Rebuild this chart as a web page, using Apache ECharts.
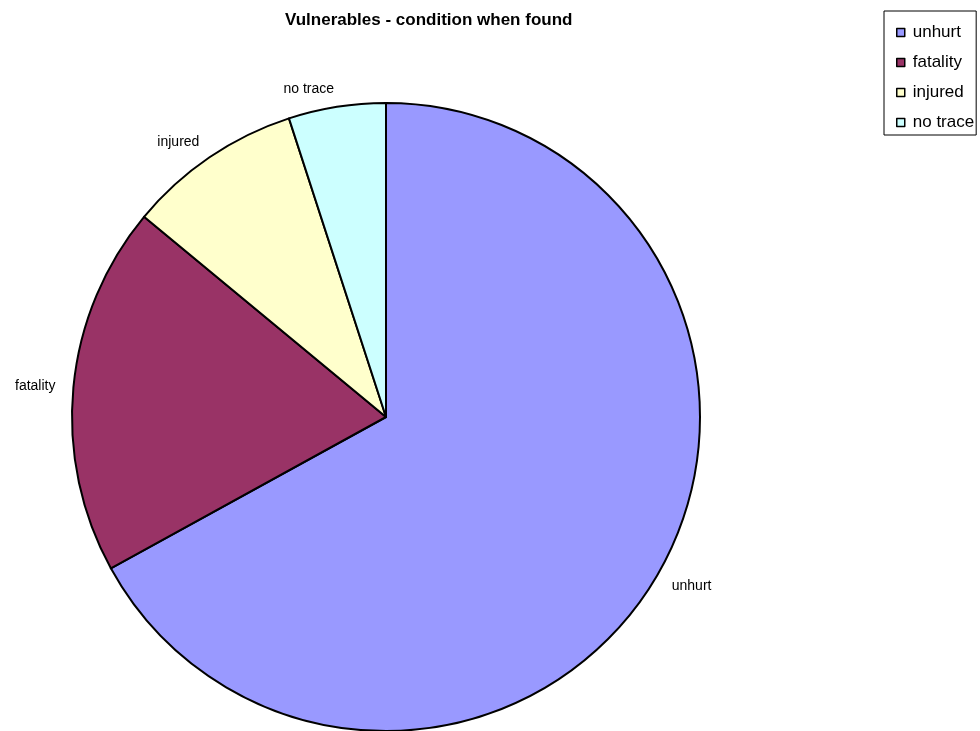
<!DOCTYPE html>
<html>
<head>
<meta charset="utf-8">
<script src="https://cdn.jsdelivr.net/npm/echarts@6/dist/echarts.min.js"></script>
<style>
html,body{margin:0;padding:0;background:#fff;}
#chart{width:980px;height:731px;}
</style>
</head>
<body>
<div id="chart"></div>
<script>
const titleText = 'Vulnerables - condition when found';
const categories = ['unhurt', 'fatality', 'injured', 'no trace'];
const values = [67, 19, 9, 5];
const colors = ['#9999FF', '#993366', '#FFFFCC', '#CCFFFF'];

const chart = echarts.init(document.getElementById('chart'), null, {renderer: 'canvas'});
chart.setOption({
  backgroundColor: '#ffffff',
  animation: false,
  title: {
    text: titleText,
    left: 285,
    top: 12,
    padding: 0,
    textStyle: {fontFamily: 'Liberation Sans, Arial, sans-serif', fontWeight: 'bold', fontSize: 17, color: '#000'}
  },
  legend: {
    orient: 'vertical',
    left: 884,
    top: 11,
    padding: [13, 2, 4, 12],
    itemGap: 13,
    itemWidth: 8,
    itemHeight: 8,
    icon: 'rect',
    borderColor: '#000',
    borderWidth: 1,
    borderRadius: 0,
    itemStyle: {borderColor: '#000', borderWidth: 1.5},
    textStyle: {fontFamily: 'Liberation Sans, Arial, sans-serif', fontSize: 17, color: '#000', padding: [0, 0, 0, 3]},
    data: categories
  },
  series: [{
    type: 'pie',
    center: [386, 417],
    radius: 314,
    startAngle: 90,
    clockwise: true,
    avoidLabelOverlap: false,
    itemStyle: {borderColor: '#000', borderWidth: 2},
    label: {
      show: true,
      position: 'outside',
      distanceToLabelLine: 0,
      fontFamily: 'Liberation Sans, Arial, sans-serif',
      fontSize: 14,
      color: '#000'
    },
    labelLine: {show: false, length: 18, length2: 0},
    emphasis: {disabled: true},
    data: categories.map((c, i) => ({name: c, value: values[i], itemStyle: {color: colors[i]}}))
  }]
});
</script>
</body>
</html>
